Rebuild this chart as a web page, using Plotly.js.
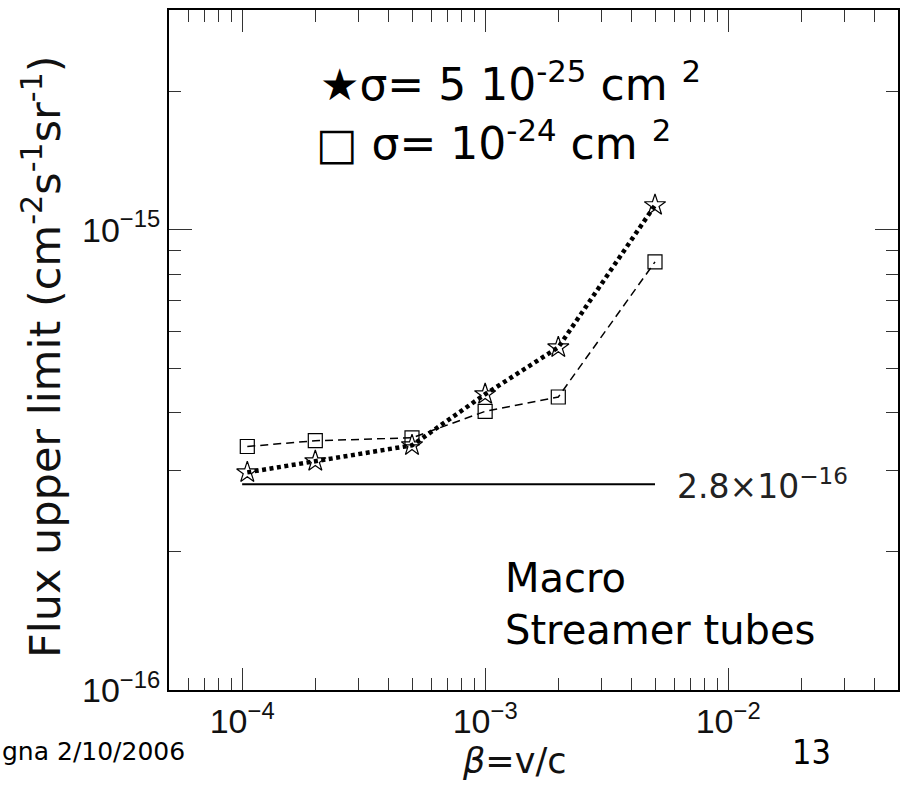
<!DOCTYPE html>
<html>
<head>
<meta charset="utf-8">
<script src="https://cdn.plot.ly/plotly-3.0.1.min.js"></script>
<style>html,body{margin:0;padding:0;background:#fff;}#chart{width:903px;height:785px;}</style>
</head>
<body>
<div id="chart"></div>
<script>
// ---- data ----
const betaVals = [1.05e-4, 2e-4, 5e-4, 1e-3, 2e-3, 5e-3];
const fluxSigma25 = [2.97e-16, 3.14e-16, 3.40e-16, 4.39e-16, 5.55e-16, 1.13e-15]; // sigma = 5e-25 cm^2 (stars)
const fluxSigma24 = [3.38e-16, 3.48e-16, 3.53e-16, 4.03e-16, 4.33e-16, 8.51e-16]; // sigma = 1e-24 cm^2 (squares)
const limitX = [1e-4, 5e-3];
const limitY = [2.8e-16, 2.8e-16];
const limitLabel = "2.8×10<sup>−16</sup>";

const xTickVals = [1e-4, 1e-3, 1e-2];
const xTickText = ["10<sup>−4</sup>", "10<sup>−3</sup>", "10<sup>−2</sup>"];
const xMinorVals = [6e-5, 7e-5, 8e-5, 9e-5, 2e-4, 3e-4, 4e-4, 5e-4, 6e-4, 7e-4, 8e-4, 9e-4,
                    2e-3, 3e-3, 4e-3, 5e-3, 6e-3, 7e-3, 8e-3, 9e-3, 2e-2, 3e-2, 4e-2];
const yTickVals = [1e-16, 1e-15];
const yTickText = ["10<sup>−16</sup>", "10<sup>−15</sup>"];
const yMinorVals = [2e-16, 3e-16, 4e-16, 5e-16, 6e-16, 7e-16, 8e-16, 9e-16, 2e-15];

const legendLine1 = "★σ= 5 10<sup>-25</sup> cm <sup>2</sup>";
const legendLine2 = "□ σ= 10<sup>-24</sup> cm <sup>2</sup>";
const yTitle = "Flux upper limit (cm<sup>-2</sup>s<sup>-1</sup>sr<sup>-1</sup>)";
const xTitle = "<i>β</i>=v/c";
const expLabel = "Macro<br>Streamer tubes";
const footerLeft = "gna 2/10/2006";
const pageNum = "13";

// ---- geometry helpers (pixels -> paper) ----
const L = 169, R = 898, T = 10, B = 690, W = 903, H = 785;
const px = x => (x - L) / (R - L);
const py = y => (B - y) / (B - T);

const traces = [
  {x: betaVals, y: fluxSigma24, mode: 'lines+markers', type: 'scatter',
   line: {color: '#000', width: 1.5, dash: '8px,5px'},
   marker: {symbol: 'square-open', size: 14, color: '#000', line: {width: 1.2, color: '#000'}}},
  {x: betaVals, y: fluxSigma25, mode: 'lines+markers', type: 'scatter',
   line: {color: '#000', width: 4.5, dash: '4px,3.5px'},
   marker: {symbol: 'star-open', size: 16, color: '#000', line: {width: 1.2, color: '#000'}}},
  {x: limitX, y: limitY, mode: 'lines', type: 'scatter',
   line: {color: '#000', width: 2}}
];

const axisFont = {family: 'Liberation Sans, Arial, sans-serif', size: 34, color: '#111'};

const layout = {
  width: W, height: H,
  margin: {l: L, r: W - R, t: T, b: H - B, pad: 0},
  paper_bgcolor: '#fff', plot_bgcolor: '#fff',
  showlegend: false,
  xaxis: {
    type: 'log', range: [Math.log10(5e-5), Math.log10(5e-2)],
    showline: true, linecolor: '#000', linewidth: 2, mirror: 'ticks',
    ticks: 'inside', ticklen: 22, tickwidth: 1, tickcolor: '#333',
    tickmode: 'array', tickvals: xTickVals, ticktext: xTickText,
    tickfont: axisFont, showgrid: false, zeroline: false,
    minor: {tickmode: 'array', tickvals: xMinorVals, ticks: 'inside', ticklen: 12,
            tickwidth: 1, tickcolor: '#333', showgrid: false}
  },
  yaxis: {
    type: 'log', range: [-16, Math.log10(3e-15)],
    showline: true, linecolor: '#000', linewidth: 2, mirror: 'ticks',
    ticks: 'inside', ticklen: 23, tickwidth: 1, tickcolor: '#333',
    tickmode: 'array', tickvals: yTickVals, ticktext: yTickText,
    tickfont: axisFont, showgrid: false, zeroline: false,
    minor: {tickmode: 'array', tickvals: yMinorVals, ticks: 'inside', ticklen: 12,
            tickwidth: 1, tickcolor: '#333', showgrid: false}
  },
  annotations: [
    {xref: 'x', yref: 'y', x: Math.log10(limitX[1]), y: Math.log10(limitY[1]),
     xanchor: 'left', yanchor: 'middle', xshift: 20, showarrow: false,
     text: limitLabel, font: {family: 'DejaVu Sans, sans-serif', size: 33, color: '#222'}},
    {xref: 'paper', yref: 'paper', x: px(318), y: py(82), xanchor: 'left', yanchor: 'middle',
     showarrow: false, text: legendLine1,
     font: {family: 'DejaVu Sans, sans-serif', size: 44, color: '#000'}},
    {xref: 'paper', yref: 'paper', x: px(314), y: py(140), xanchor: 'left', yanchor: 'middle',
     showarrow: false, text: legendLine2,
     font: {family: 'DejaVu Sans, sans-serif', size: 44, color: '#000'}},
    {xref: 'paper', yref: 'paper', x: px(42), y: py(357), xanchor: 'center', yanchor: 'middle',
     textangle: -90, showarrow: false, text: yTitle,
     font: {family: 'DejaVu Sans, sans-serif', size: 43, color: '#111'}},
    {xref: 'paper', yref: 'paper', x: px(514), y: py(761), xanchor: 'center', yanchor: 'middle',
     showarrow: false, text: xTitle,
     font: {family: 'DejaVu Sans, sans-serif', size: 35, color: '#111'}},
    {xref: 'paper', yref: 'paper', x: px(503), y: py(604), xanchor: 'left', yanchor: 'middle',
     align: 'left', showarrow: false, text: expLabel,
     font: {family: 'DejaVu Sans, sans-serif', size: 40, color: '#000'}},
    {xref: 'paper', yref: 'paper', x: px(0), y: py(752), xanchor: 'left', yanchor: 'middle',
     showarrow: false, text: footerLeft,
     font: {family: 'DejaVu Sans, sans-serif', size: 25, color: '#000'}},
    {xref: 'paper', yref: 'paper', x: px(811), y: py(752), xanchor: 'center', yanchor: 'middle',
     showarrow: false, text: pageNum,
     font: {family: 'DejaVu Sans Condensed, DejaVu Sans, sans-serif', size: 34, color: '#000'}}
  ]
};

Plotly.newPlot('chart', traces, layout, {displayModeBar: false, staticPlot: true});
</script>
</body>
</html>
